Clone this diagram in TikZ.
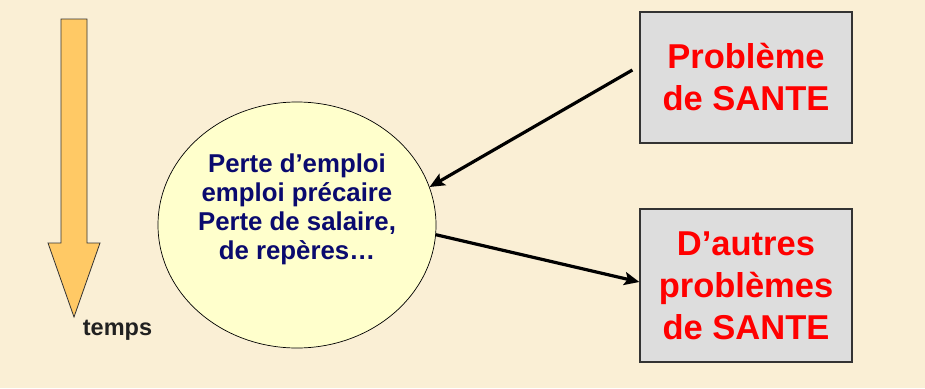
\documentclass[tikz,border=0pt]{standalone}
\usepackage{fontspec}
\setmainfont{Liberation Sans}
\usetikzlibrary{shapes.geometric,arrows.meta}
\definecolor{bgcol}{HTML}{FAEFD5}
\definecolor{arrowfill}{HTML}{FFC965}
\definecolor{circfill}{HTML}{FFFFCC}
\definecolor{boxfill}{HTML}{DDDDDD}
\definecolor{navytxt}{HTML}{0A0A6E}
\definecolor{redtxt}{HTML}{FF0000}
\definecolor{darkline}{HTML}{333333}
\tikzset{
  probbox/.style={draw=darkline, line width=1.2pt, fill=boxfill, minimum width=212pt,
    inner sep=0pt, align=center, text=redtxt, font=\bfseries\fontsize{34.5}{42}\selectfont},
  linkarrow/.style={line width=3.2pt, -{Stealth[length=15pt,width=13pt,inset=3pt]}},
}
\begin{document}
\begin{tikzpicture}[x=1pt,y=-1pt]
\fill[bgcol] (0,0) rectangle (925,388);
\useasboundingbox (0,0) rectangle (925,388);
% time arrow
\draw[draw=darkline, line width=0.8pt, fill=arrowfill, line join=miter]
  (61,19) -- (87,19) -- (87,243) -- (100,243) -- (74,317) -- (48,243) -- (61,243) -- cycle;
\node[anchor=base, text=black!87, font=\bfseries\fontsize{23.5}{28}\selectfont] (temps) at (117.5,335) {temps};
% ellipse
\node[ellipse, draw=black, line width=0.7pt, fill=circfill, minimum width=278pt, minimum height=246pt, inner sep=0pt] (circ) at (297,225) {};
\node[align=center, text=navytxt, font=\bfseries\fontsize{25.8}{29}\selectfont, inner sep=0pt] (circtext) at (297,209.7)
  {Perte d’emploi\\emploi précaire\\Perte de salaire,\\de repères…};
% boxes
\node[probbox, minimum height=131pt] (box1) at (746,77.5) {Problème\\de SANTE};
\node[probbox, minimum height=153pt] (box2) at (746,285.5) {D’autres\\problèmes\\de SANTE};
% connectors
\coordinate (s1) at ([xshift=-7pt,yshift=7.5pt]box1.west);
\draw[linkarrow] (s1) -- (circ.16);
\draw[linkarrow] (circ.-4.9) -- ([yshift=3.5pt]box2.west);
\end{tikzpicture}
\end{document}
